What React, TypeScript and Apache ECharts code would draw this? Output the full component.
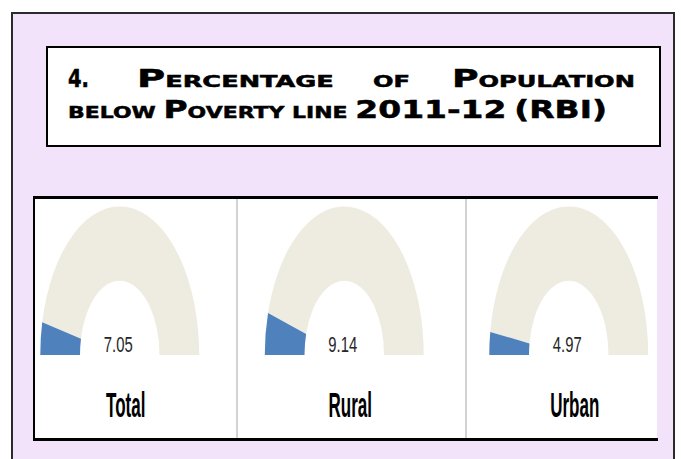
import React, { useEffect, useRef } from "react";
import * as echarts from "echarts";

// ---- data ----
const categories = ["Total", "Rural", "Urban"];
const values = [7.05, 9.14, 4.97];
const gaugeMax = 100;
const titleLine1Words = ["4.", "Percentage", "of", "Population"];
const titleLine2 = "below Poverty line 2011-12 (RBI)";

// ---- styling ----
const LAVENDER = "#F2E3FB";
const BLUE = "#4F81BD";
const TRACK = "#EEECE1";
const TITLE_FONT = '"DejaVu Sans", "Liberation Sans", sans-serif';
const LABEL_FONT = '"Liberation Sans", Arial, sans-serif';
const BIG = 24;
const SMALL = 16;
const CENTRAL = 0.346; // distance from alphabetic baseline to em-box centre, in em

let measureCtx: CanvasRenderingContext2D | null = null;
function measure(text: string, size: number): number {
  if (!measureCtx) {
    const c = document.createElement("canvas");
    measureCtx = c.getContext("2d");
  }
  if (!measureCtx) return text.length * size * 0.7;
  measureCtx.font = `bold ${size}px ${TITLE_FONT}`;
  return measureCtx.measureText(text).width;
}

// split into small-caps runs: lowercase letters become small capitals
function smallCapsRuns(text: string) {
  const runs: { t: string; size: number }[] = [];
  for (const ch of text) {
    const small = ch === " " || (ch >= "a" && ch <= "z");
    const size = small ? SMALL : BIG;
    const t = ch.toUpperCase();
    const last = runs[runs.length - 1];
    if (last && last.size === size) last.t += t;
    else runs.push({ t, size });
  }
  return runs;
}

function titleRun(text: string, x0: number, x1: number, baseline: number) {
  const runs = smallCapsRuns(text);
  const widths = runs.map((r) => measure(r.t, r.size));
  const total = widths.reduce((a, b) => a + b, 0);
  const s = (x1 - x0) / total;
  let cursor = x0;
  return runs.map((r, i) => {
    const el = {
      type: "text",
      x: cursor,
      y: baseline,
      scaleX: s,
      z: 5,
      style: {
        text: r.t,
        x: 0,
        y: -CENTRAL * r.size,
        fill: "#000",
        stroke: "#000",
        lineWidth: 0.5,
        fontSize: r.size,
        fontFamily: TITLE_FONT,
        fontWeight: "bold",
        textAlign: "left",
        textVerticalAlign: "middle",
        verticalAlign: "middle",
      },
    };
    cursor += widths[i] * s;
    return el;
  });
}

export default function App() {
  const ref = useRef<HTMLDivElement>(null);

  useEffect(() => {
    document.body.style.margin = "0";
    if (!ref.current) return;
    const chart = echarts.init(ref.current, undefined, { renderer: "svg" });

    const line1Spans: [number, number][] = [
      [68, 89],
      [137, 334],
      [373, 410],
      [452, 635],
    ];
    const titleEls: any[] = [];
    titleLine1Words.forEach((w, i) => {
      titleEls.push(...titleRun(w, line1Spans[i][0], line1Spans[i][1], 87));
    });
    titleEls.push(...titleRun(titleLine2, 68, 607, 118));

    const option: any = {
      animation: false,
      backgroundColor: "#fff",
      grid: { left: 7.5, right: -13.5, top: 200, bottom: 104, containLabel: false },
      xAxis: { type: "category", data: categories, show: false, boundaryGap: true },
      yAxis: { type: "value", min: 0, max: 1, show: false },
      graphic: [
        {
          type: "rect",
          z: 0,
          shape: { x: 12, y: 13, width: 662, height: 470 },
          style: { fill: LAVENDER, stroke: "#2b2b2b", lineWidth: 2 },
        },
        {
          type: "rect",
          z: 1,
          shape: { x: 47, y: 47, width: 613, height: 99 },
          style: { fill: "#fff", stroke: "#000", lineWidth: 2 },
        },
        ...titleEls,
        {
          type: "rect",
          z: 1,
          shape: { x: 34, y: 197, width: 623, height: 243 },
          style: { fill: "#fff" },
        },
        {
          type: "line",
          z: 1,
          shape: { x1: 237, y1: 198, x2: 237, y2: 439 },
          style: { stroke: "#A6A6A6", lineWidth: 1 },
        },
        {
          type: "line",
          z: 1,
          shape: { x1: 466, y1: 198, x2: 466, y2: 439 },
          style: { stroke: "#A6A6A6", lineWidth: 1 },
        },
        {
          type: "rect",
          z: 100,
          shape: { x: 657, y: 190, width: 16, height: 260 },
          style: { fill: LAVENDER },
        },
        {
          type: "line",
          z: 101,
          shape: { x1: 33, y1: 197.5, x2: 658, y2: 197.5 },
          style: { stroke: "#000", lineWidth: 3 },
        },
        {
          type: "line",
          z: 101,
          shape: { x1: 33, y1: 439.5, x2: 658, y2: 439.5 },
          style: { stroke: "#000", lineWidth: 3 },
        },
        {
          type: "line",
          z: 101,
          shape: { x1: 34, y1: 196, x2: 34, y2: 441 },
          style: { stroke: "#000", lineWidth: 2 },
        },
      ],
      series: [
        {
          type: "custom",
          coordinateSystem: "cartesian2d",
          z: 10,
          encode: { x: 0, y: 1 },
          data: categories.map((c, i) => [i, 0, values[i]]),
          renderItem: (params: any, api: any) => {
            const i = api.value(0);
            const v = api.value(2);
            const pt = api.coord([i, 0]);
            const band = api.size([1, 0])[0];
            const R = band * 0.354;
            const r0 = band * 0.177;
            const sy = 1.87;
            const a = Math.PI + (v / gaugeMax) * Math.PI;
            return {
              type: "group",
              children: [
                {
                  type: "sector",
                  x: pt[0],
                  y: pt[1],
                  scaleY: sy,
                  shape: { cx: 0, cy: 0, r: R, r0, startAngle: a, endAngle: 2 * Math.PI, clockwise: true },
                  style: { fill: TRACK },
                },
                {
                  type: "sector",
                  x: pt[0],
                  y: pt[1],
                  scaleY: sy,
                  shape: { cx: 0, cy: 0, r: R, r0, startAngle: Math.PI, endAngle: a, clockwise: true },
                  style: { fill: BLUE },
                },
                {
                  type: "text",
                  x: pt[0] - 1.5,
                  y: pt[1] - 3,
                  scaleX: 0.78,
                  scaleY: 1.12,
                  style: {
                    text: v.toFixed(2),
                    x: 0,
                    y: -CENTRAL * 19,
                    fill: "#262626",
                    fontSize: 19,
                    fontFamily: LABEL_FONT,
                    textAlign: "center",
                    textVerticalAlign: "middle",
                    verticalAlign: "middle",
                  },
                },
                {
                  type: "text",
                  x: pt[0] + 6,
                  y: pt[1] + 62,
                  scaleX: 0.85,
                  scaleY: 1.8,
                  style: {
                    text: categories[i],
                    x: 0,
                    y: -CENTRAL * 20,
                    fill: "#000",
                    fontSize: 20,
                    fontWeight: "bold",
                    fontFamily: LABEL_FONT,
                    textAlign: "center",
                    textVerticalAlign: "middle",
                    verticalAlign: "middle",
                  },
                },
              ],
            };
          },
        },
      ],
    };
    chart.setOption(option);
    return () => chart.dispose();
  }, []);

  return <div ref={ref} style={{ width: 681, height: 459 }} />;
}
